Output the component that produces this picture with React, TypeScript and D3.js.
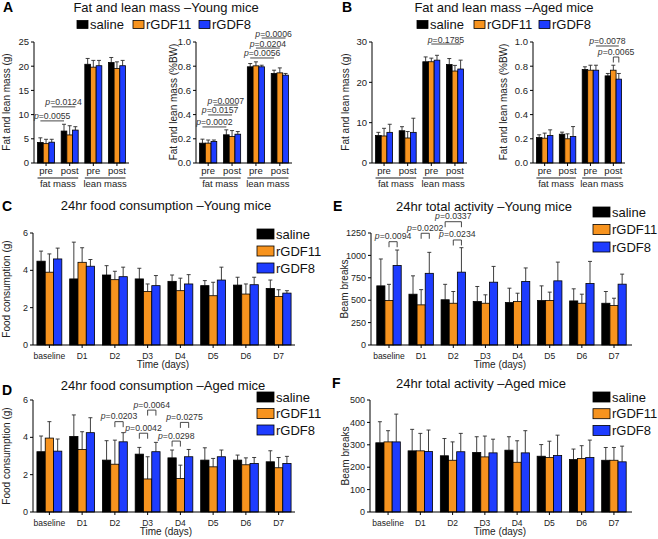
import React from "react";
import * as d3 from "d3";

const FONT = "'Liberation Sans', Arial, Helvetica, sans-serif";
const seriesNames = ["saline", "rGDF11", "rGDF8"];
const seriesColors = ["#000000", "#F7931E", "#1E3CFF"];

const massGroups = ["pre", "post", "pre", "post"];
const massCategories = ["fat mass", "lean mass"];
const dayLabels = ["baseline", "D1", "D2", "D3", "D4", "D5", "D6", "D7"];

// A – young mice, grams (rows: saline, rGDF11, rGDF8)
const youngGramMean = [
  [4.25, 6.6, 20.4, 20.75],
  [4.0, 5.8, 19.8, 19.5],
  [4.3, 6.8, 20.1, 20.1],
];
const youngGramErr = [
  [0.95, 1.4, 1.2, 1.05],
  [0.9, 1.9, 1.4, 1.4],
  [0.6, 0.7, 1.1, 1.1],
];
// A – young mice, %BW
const youngPctMean = [
  [0.164, 0.233, 0.795, 0.74],
  [0.164, 0.219, 0.803, 0.745],
  [0.178, 0.238, 0.795, 0.726],
];
const youngPctErr = [
  [0.033, 0.041, 0.027, 0.027],
  [0.026, 0.049, 0.033, 0.041],
  [0.012, 0.022, 0.013, 0.014],
];
// B – aged mice, grams
const agedGramMean = [
  [6.8, 8.0, 25.1, 24.4],
  [6.7, 6.2, 25.1, 22.8],
  [7.6, 7.6, 25.5, 23.3],
];
const agedGramErr = [
  [0.8, 1.0, 1.2, 1.5],
  [1.9, 1.6, 0.9, 1.4],
  [2.0, 3.5, 1.2, 2.2],
];
// B – aged mice, %BW
const agedPctMean = [
  [0.21, 0.238, 0.773, 0.72],
  [0.205, 0.2, 0.767, 0.767],
  [0.227, 0.219, 0.767, 0.693],
];
const agedPctErr = [
  [0.023, 0.017, 0.022, 0.02],
  [0.042, 0.041, 0.041, 0.041],
  [0.047, 0.082, 0.041, 0.047],
];
// C – food consumption young (g)
const foodYoungMean = [
  [4.49, 3.54, 3.75, 3.54, 3.41, 3.18, 3.21, 3.03],
  [3.9, 4.43, 3.5, 2.87, 2.91, 2.64, 2.73, 2.6],
  [4.61, 4.22, 3.66, 3.18, 3.27, 3.48, 3.23, 2.78],
];
const foodYoungErr = [
  [0.54, 1.97, 0.5, 0.57, 0.34, 0.27, 0.42, 0.45],
  [0.98, 0.78, 0.45, 0.4, 0.67, 0.72, 0.54, 0.36],
  [0.58, 0.36, 0.51, 0.54, 0.5, 0.69, 0.4, 0.13],
];
// D – food consumption aged (g)
const foodAgedMean = [
  [3.23, 4.05, 2.78, 3.1, 2.9, 2.78, 2.78, 2.69],
  [3.96, 3.35, 2.56, 1.77, 1.8, 2.42, 2.53, 2.37],
  [3.26, 4.25, 3.76, 3.23, 2.96, 2.96, 2.6, 2.6],
];
const foodAgedErr = [
  [0.84, 1.15, 1.04, 0.36, 0.42, 0.66, 0.27, 0.59],
  [0.88, 0.95, 1.29, 1.19, 0.71, 0.45, 0.37, 0.55],
  [0.65, 0.8, 0.49, 0.5, 0.39, 0.36, 0.32, 0.38],
];
// E – activity young (beam breaks)
const actYoungMean = [
  [660, 567, 505, 485, 474, 496, 492, 466],
  [496, 448, 466, 466, 485, 496, 466, 440],
  [888, 800, 813, 701, 709, 716, 686, 679],
];
const actYoungErr = [
  [300, 205, 172, 168, 160, 164, 135, 131],
  [181, 170, 131, 94, 93, 94, 101, 82],
  [172, 234, 273, 176, 151, 209, 247, 112],
];
// F – activity aged (beam breaks)
const actAgedMean = [
  [309, 273, 251, 266, 276, 249, 234, 231],
  [313, 273, 231, 246, 222, 243, 239, 231],
  [313, 270, 269, 264, 264, 252, 243, 224],
];
const actAgedErr = [
  [94, 96, 77, 70, 60, 52, 47, 57],
  [50, 78, 82, 93, 96, 73, 57, 57],
  [124, 96, 82, 61, 99, 91, 78, 70],
];

// significance annotations (group / series indices, y in data units)
const youngGramLines = [
  { p: "0.0124", g1: 0, s1: 2, g2: 1, s2: 2, y: 11.6 },
  { p: "0.0055", g1: 0, s1: 0, g2: 1, s2: 0, y: 8.7 },
];
const youngPctLines = [
  { p: "0.0006", g1: 2, s1: 2, g2: 3, s2: 2, y: 1.033 },
  { p: "0.0204", g1: 2, s1: 1, g2: 3, s2: 1, y: 0.95 },
  { p: "0.0056", g1: 2, s1: 0, g2: 3, s2: 0, y: 0.868 },
  { p: "0.0007", g1: 0, s1: 2, g2: 1, s2: 2, y: 0.479 },
  { p: "0.0157", g1: 0, s1: 1, g2: 1, s2: 1, y: 0.397 },
  { p: "0.0002", g1: 0, s1: 0, g2: 1, s2: 0, y: 0.298 },
];
const agedGramLines = [{ p: "0.1785", g1: 2, s1: 1, g2: 3, s2: 2, y: 29.5 }];
const agedPctLines = [{ p: "0.0078", g1: 2, s1: 2, g2: 3, s2: 2, y: 0.967 }];
const agedPctBrackets = [{ p: "0.0065", g: 3, s1: 1, s2: 2, y: 0.876 }];
const foodAgedBrackets = [
  { p: "0.0203", g: 2, s1: 1, s2: 2, y: 4.84 },
  { p: "0.0064", g: 3, s1: 1, s2: 2, y: 5.46 },
  { p: "0.0042", g: 3, s1: 0, s2: 1, y: 4.22 },
  { p: "0.0275", g: 4, s1: 1, s2: 2, y: 4.8 },
  { p: "0.0298", g: 4, s1: 0, s2: 1, y: 3.8 },
];
const actYoungBrackets = [
  { p: "0.0094", g: 0, s1: 1, s2: 2, y: 1153 },
  { p: "0.0202", g: 1, s1: 1, s2: 2, y: 1247 },
  { p: "0.0337", g: 2, s1: 0, s2: 2, y: 1376 },
  { p: "0.0234", g: 2, s1: 1, s2: 2, y: 1172 },
];

type Cfg = {
  x0: number; x1: number; yTop: number; yBottom: number;
  yMax: number; yStep: number; fmt: (v: number) => string;
  groups: string[]; pi: number; po: number;
  tickFont: number; labelFont: number; labelDy: number;
};

function makeScales(c: Cfg) {
  const xg = d3.scaleBand<number>().domain(d3.range(c.groups.length)).range([c.x0, c.x1]).paddingInner(c.pi).paddingOuter(c.po);
  const xs = d3.scaleBand<number>().domain([0, 1, 2]).range([0, xg.bandwidth()]);
  const y = d3.scaleLinear().domain([0, c.yMax]).range([c.yBottom, c.yTop]);
  const cx = (g: number, s: number) => (xg(g) as number) + (xs(s) as number) + xs.bandwidth() / 2;
  return { xg, xs, y, cx };
}

const ERR = "#2a2a2a";

function BarPanel({ c, means, errs }: { c: Cfg; means: number[][]; errs: number[][] }) {
  const { xg, xs, y, cx } = makeScales(c);
  const ticks = d3.range(0, c.yMax + c.yStep / 2, c.yStep);
  return (
    <g>
      {means.map((row, s) =>
        row.map((v, g) => {
          const x = (xg(g) as number) + (xs(s) as number);
          const w = xs.bandwidth();
          const yt = y(v);
          const yc = y(v + errs[s][g]);
          const mx = cx(g, s);
          return (
            <g key={`${s}-${g}`}>
              <line x1={mx} x2={mx} y1={yt} y2={yc} stroke={ERR} strokeWidth={0.9} />
              <line x1={mx - 2} x2={mx + 2} y1={yc} y2={yc} stroke={ERR} strokeWidth={0.9} />
              <rect x={x} y={yt} width={w} height={c.yBottom - yt} fill={seriesColors[s]} stroke="#000" strokeWidth={0.8} />
            </g>
          );
        })
      )}
      <line x1={c.x0} x2={c.x0} y1={y(0)} y2={y(c.yMax)} stroke="#000" strokeWidth={1} />
      <line x1={c.x0} x2={c.x1} y1={y(0)} y2={y(0)} stroke="#000" strokeWidth={1} />
      {ticks.map((t) => (
        <g key={t}>
          <line x1={c.x0 - 3} x2={c.x0} y1={y(t)} y2={y(t)} stroke="#000" strokeWidth={1} />
          <text x={c.x0 - 5} y={y(t)} dy="0.35em" textAnchor="end" fontSize={c.tickFont} fill="#222">
            {c.fmt(t)}
          </text>
        </g>
      ))}
      {c.groups.map((gl, g) => {
        const gx = (xg(g) as number) + xg.bandwidth() / 2;
        return (
          <g key={gl + g}>
            <line x1={gx} x2={gx} y1={y(0)} y2={y(0) + 3} stroke="#000" strokeWidth={1} />
            <text x={gx} y={y(0) + c.labelDy} textAnchor="middle" fontSize={c.labelFont} fill="#222">
              {gl}
            </text>
          </g>
        );
      })}
    </g>
  );
}

function PLabel({ x, y, p, size }: { x: number; y: number; p: string; size: number }) {
  return (
    <text x={x} y={y} textAnchor="middle" fontSize={size} fill="#333">
      <tspan fontStyle="italic">p</tspan>={p}
    </text>
  );
}

function Lines({ c, notes }: { c: Cfg; notes: { p: string; g1: number; s1: number; g2: number; s2: number; y: number }[] }) {
  const { y, cx } = makeScales(c);
  return (
    <g>
      {notes.map((n) => {
        const a = cx(n.g1, n.s1);
        const b = cx(n.g2, n.s2);
        const yy = y(n.y);
        return (
          <g key={n.p}>
            <line x1={a} x2={b} y1={yy} y2={yy} stroke="#333" strokeWidth={0.9} />
            <PLabel x={(a + b) / 2} y={yy - 1.5} p={n.p} size={8.7} />
          </g>
        );
      })}
    </g>
  );
}

function Brackets({ c, notes }: { c: Cfg; notes: { p: string; g: number; s1: number; s2: number; y: number }[] }) {
  const { y, cx } = makeScales(c);
  return (
    <g>
      {notes.map((n) => {
        const a = cx(n.g, n.s1);
        const b = cx(n.g, n.s2);
        const yy = y(n.y);
        return (
          <g key={n.p}>
            <path d={`M${a},${yy + 5.5}V${yy}H${b}V${yy + 5.5}`} fill="none" stroke="#333" strokeWidth={0.9} />
            <PLabel x={(a + b) / 2} y={yy - 2.5} p={n.p} size={8.7} />
          </g>
        );
      })}
    </g>
  );
}

function MassSuperLabels({ c }: { c: Cfg }) {
  const { xg } = makeScales(c);
  return (
    <g>
      {massCategories.map((lab, i) => {
        const a = xg(i * 2) as number;
        const b = (xg(i * 2 + 1) as number) + xg.bandwidth();
        return (
          <g key={lab}>
            <line x1={a} x2={b} y1={c.yBottom + 15} y2={c.yBottom + 15} stroke="#000" strokeWidth={0.9} />
            <text x={(a + b) / 2} y={c.yBottom + 23.5} textAnchor="middle" fontSize={9.5} fill="#222">
              {lab}
            </text>
          </g>
        );
      })}
    </g>
  );
}

function HLegend({ xs, y }: { xs: number[]; y: number }) {
  return (
    <g>
      {seriesNames.map((n, i) => (
        <g key={n}>
          <rect x={xs[i]} y={y} width={11} height={8} fill={seriesColors[i]} stroke="#000" strokeWidth={0.8} />
          <text x={xs[i] + 13} y={y + 8.3} fontSize={13} fill="#111">
            {n}
          </text>
        </g>
      ))}
    </g>
  );
}

function VLegend({ x, y, step }: { x: number; y: number; step: number }) {
  return (
    <g>
      {seriesNames.map((n, i) => (
        <g key={n}>
          <rect x={x} y={y + i * step} width={17} height={10} fill={seriesColors[i]} stroke="#000" strokeWidth={0.8} />
          <text x={x + 19} y={y + i * step + 9.6} fontSize={13} fill="#111">
            {n}
          </text>
        </g>
      ))}
    </g>
  );
}

function YTitle({ x, y, t }: { x: number; y: number; t: string }) {
  return (
    <text transform={`translate(${x},${y}) rotate(-90)`} textAnchor="middle" fontSize={10} fill="#222">
      {t}
    </text>
  );
}

function Title({ x, y, t }: { x: number; y: number; t: string }) {
  return (
    <text x={x} y={y} textAnchor="middle" fontSize={13} fill="#111">
      {t}
    </text>
  );
}

function Letter({ x, y, t }: { x: number; y: number; t: string }) {
  return (
    <text x={x} y={y} fontSize={14} fontWeight="bold" fill="#000">
      {t}
    </text>
  );
}

const fmt0 = (v: number) => d3.format("d")(v);
const fmt1 = (v: number) => d3.format(".1f")(v);

const massBase = { yTop: 42, yBottom: 163, groups: massGroups, pi: 0.28, po: 0.15, tickFont: 9.5, labelFont: 9.5, labelDy: 10.5 };
const cfgAL: Cfg = { ...massBase, x0: 34, x1: 129, yMax: 25, yStep: 5, fmt: fmt0 };
const cfgAR: Cfg = { ...massBase, x0: 196, x1: 292, yMax: 1.0, yStep: 0.2, fmt: fmt1 };
const cfgBL: Cfg = { ...massBase, x0: 372, x1: 467, yMax: 30, yStep: 10, fmt: fmt0 };
const cfgBR: Cfg = { ...massBase, x0: 533, x1: 625, yMax: 1.0, yStep: 0.2, fmt: fmt1 };

const dayBase = { groups: dayLabels, pi: 0.24, tickFont: 9, labelFont: 8.5, labelDy: 13.5 };
const cfgC: Cfg = { ...dayBase, x0: 33, x1: 295, yTop: 233, yBottom: 345, yMax: 6, yStep: 2, fmt: fmt0, po: 0.12 };
const cfgD: Cfg = { ...dayBase, x0: 33, x1: 295, yTop: 400, yBottom: 512, yMax: 6, yStep: 2, fmt: fmt0, po: 0.12 };
const cfgE: Cfg = { ...dayBase, x0: 371, x1: 632, yTop: 233, yBottom: 345, yMax: 1250, yStep: 250, fmt: fmt0, po: 0.18 };
const cfgF: Cfg = { ...dayBase, x0: 370, x1: 632, yTop: 400, yBottom: 512, yMax: 500, yStep: 100, fmt: fmt0, po: 0.18 };

export default function App() {
  return (
    <svg
      width={658}
      height={539}
      viewBox="0 0 658 539"
      style={{ position: "absolute", left: 0, top: 0, background: "#fff" }}
      fontFamily={FONT}
    >
      <rect x={0} y={0} width={658} height={539} fill="#fff" />

      {/* Panel A */}
      <Letter x={3} y={12} t="A" />
      <Title x={166} y={12} t="Fat and lean mass –Young mice" />
      <HLegend xs={[77, 133, 199]} y={20.5} />
      <BarPanel c={cfgAL} means={youngGramMean} errs={youngGramErr} />
      <MassSuperLabels c={cfgAL} />
      <Lines c={cfgAL} notes={youngGramLines} />
      <YTitle x={10} y={102} t="Fat and lean mass (g)" />
      <BarPanel c={cfgAR} means={youngPctMean} errs={youngPctErr} />
      <MassSuperLabels c={cfgAR} />
      <Lines c={cfgAR} notes={youngPctLines} />
      <YTitle x={177} y={102} t="Fat and lean mass (%BW)" />

      {/* Panel B */}
      <Letter x={342} y={12} t="B" />
      <Title x={504} y={12} t="Fat and lean mass –Aged mice" />
      <HLegend xs={[417, 474, 539]} y={20.5} />
      <BarPanel c={cfgBL} means={agedGramMean} errs={agedGramErr} />
      <MassSuperLabels c={cfgBL} />
      <Lines c={cfgBL} notes={agedGramLines} />
      <YTitle x={349} y={102} t="Fat and lean mass (g)" />
      <BarPanel c={cfgBR} means={agedPctMean} errs={agedPctErr} />
      <MassSuperLabels c={cfgBR} />
      <Lines c={cfgBR} notes={agedPctLines} />
      <Brackets c={cfgBR} notes={agedPctBrackets} />
      <YTitle x={507} y={102} t="Fat and lean mass (%BW)" />

      {/* Panel C */}
      <Letter x={2} y={211} t="C" />
      <Title x={166} y={209.5} t="24hr food consumption –Young mice" />
      <BarPanel c={cfgC} means={foodYoungMean} errs={foodYoungErr} />
      <VLegend x={257} y={229} step={17} />
      <YTitle x={10} y={289} t="Food consumption (g)" />
      <text x={163} y={368} textAnchor="middle" fontSize={10} fill="#222">Time (days)</text>

      {/* Panel D */}
      <Letter x={2} y={395} t="D" />
      <Title x={163} y={389.5} t="24hr food consumption –Aged mice" />
      <BarPanel c={cfgD} means={foodAgedMean} errs={foodAgedErr} />
      <Brackets c={cfgD} notes={foodAgedBrackets} />
      <VLegend x={257} y={392} step={16.5} />
      <YTitle x={10} y={456} t="Food consumption (g)" />
      <text x={166} y={535} textAnchor="middle" fontSize={10} fill="#222">Time (days)</text>

      {/* Panel E */}
      <Letter x={333} y={211} t="E" />
      <Title x={484} y={211} t="24hr total activity –Young mice" />
      <BarPanel c={cfgE} means={actYoungMean} errs={actYoungErr} />
      <Brackets c={cfgE} notes={actYoungBrackets} />
      <VLegend x={593} y={207} step={17.5} />
      <YTitle x={348} y={289} t="Beam breaks" />
      <text x={500} y={368} textAnchor="middle" fontSize={10} fill="#222">Time (days)</text>

      {/* Panel F */}
      <Letter x={332} y={388} t="F" />
      <Title x={481} y={387.5} t="24hr total activity –Aged mice" />
      <BarPanel c={cfgF} means={actAgedMean} errs={actAgedErr} />
      <VLegend x={593} y={392} step={16.7} />
      <YTitle x={349} y={456} t="Beam breaks" />
      <text x={500} y={535} textAnchor="middle" fontSize={10} fill="#222">Time (days)</text>
    </svg>
  );
}
